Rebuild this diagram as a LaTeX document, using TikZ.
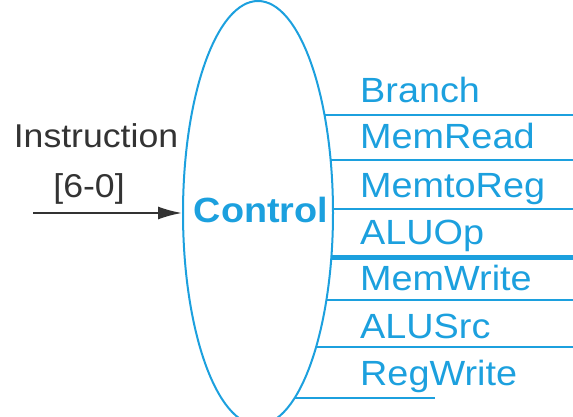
\documentclass[tikz,border=0pt]{standalone}
\usepackage{fontspec}
\setmainfont[FakeStretch=1.08]{Liberation Sans}
\usetikzlibrary{shapes.geometric}
\usetikzlibrary{arrows.meta}

\definecolor{ctrlblue}{RGB}{28,160,222}
\tikzset{
  sig/.style={ctrlblue,line width=2pt},
  siglabel/.style={anchor=base west,inner sep=0pt,text=ctrlblue,font=\fontsize{35}{40}\selectfont},
  inlabel/.style={anchor=base,inner sep=0pt,text=black!80,font=\fontsize{33}{40}\selectfont}
}

\begin{document}
\begin{tikzpicture}[x=1pt,y=-1pt]
      \useasboundingbox (0,0) rectangle (573,417);
      \clip (0,0) rectangle (573,417);
      \node[ellipse,draw=ctrlblue,line width=2pt,minimum width=150pt,minimum height=424pt,inner sep=0pt] (ctrl) at (258,213) {};
      \node[anchor=base,inner sep=0pt,text=ctrlblue,font=\bfseries\fontsize{35}{40}\selectfont] (ctrltext) at (261,222) {Control};
      % input
      \node[inlabel] (instr1) at (96,147) {Instruction};
      \node[inlabel] (instr2) at (89,197) {[6-0]};
      \coordinate (in) at (33,213);
      \draw[-{Latex[length=24pt,width=13pt]},line width=2pt,black!80] (in) -- (ctrl.west);
      % outputs
      \foreach \b/\y/\xe/\w/\name [count=\i] in {103/115/573/2/Branch, 149/160/573/2/MemRead,
            197/209/573/2/MemtoReg, 244/257/573/5/ALUOp, 290/300/573/2/MemWrite,
            338/347/573/2/ALUSrc, 385/398/435/2/RegWrite} {
	\pgfmathsetmacro\xs{258+75*sqrt(1-((\y-213)/212)^2)}
	\node[siglabel] (l\i) at (360,\b) {\name};
	\coordinate (s\i) at (\xs,\y);
	\coordinate (e\i) at (\xe,\y);
	\draw[sig,line width=\w pt] (s\i) -- (e\i);
      }
\end{tikzpicture}
\end{document}
